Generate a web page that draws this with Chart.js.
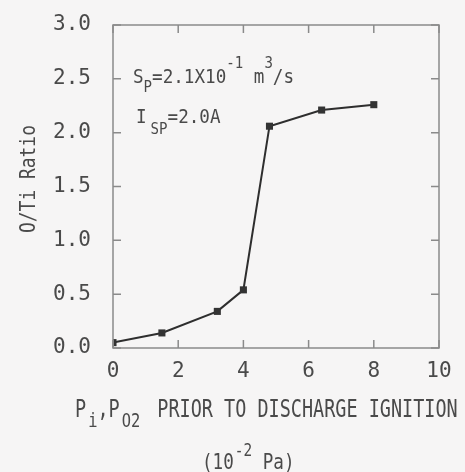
<!DOCTYPE html>
<html>
<head>
<meta charset="utf-8">
<script src="https://cdn.jsdelivr.net/npm/chart.js@4/dist/chart.umd.min.js"></script>
<style>
  html, body { margin: 0; padding: 0; background: #f6f5f5; }
  #wrap { width: 465px; height: 472px; }
</style>
</head>
<body>
<div id="wrap"><canvas id="c" width="465" height="472"></canvas></div>
<script>
// O/Ti ratio versus gas pressure before discharge ignition
const pressure = [0, 1.5, 3.2, 4.0, 4.8, 6.4, 8.0];        // 10^-2 Pa
const otiRatio = [0.05, 0.14, 0.34, 0.54, 2.06, 2.21, 2.26];
const xTickValues = [0, 2, 4, 6, 8, 10];
const yTickValues = [0.0, 0.5, 1.0, 1.5, 2.0, 2.5, 3.0];

const INK = '#4a4a4a';
const FRAME = '#8a8a8a';
const FONT = '"DejaVu Sans Mono", "Liberation Mono", monospace';

// draws a sequence of text runs (with sub/superscripts), horizontally condensed
function drawRuns(ctx, runs, x, y, sx) {
  ctx.save();
  ctx.translate(x, y);
  ctx.scale(sx, 1);
  let cx = 0;
  for (const r of runs) {
    cx += (r.gap || 0) / sx;
    ctx.font = r.size + 'px ' + FONT;
    ctx.fillText(r.t, cx, r.dy || 0);
    cx += ctx.measureText(r.t).width;
  }
  ctx.restore();
}

const decor = {
  id: 'decor',
  beforeDraw(chart) {
    const ctx = chart.ctx;
    ctx.save();
    ctx.fillStyle = '#f6f5f5';
    ctx.fillRect(0, 0, chart.width, chart.height);
    ctx.restore();
  },
  afterDraw(chart) {
    const ctx = chart.ctx;
    const a = chart.chartArea;
    const xs = chart.scales.x, ys = chart.scales.y;
    ctx.save();
    // frame
    ctx.strokeStyle = FRAME;
    ctx.lineWidth = 1.5;
    ctx.strokeRect(a.left, a.top, a.right - a.left, a.bottom - a.top);
    // inward tick marks on all four sides
    const L = 8;
    ctx.beginPath();
    xTickValues.forEach(v => {
      const px = xs.getPixelForValue(v);
      ctx.moveTo(px, a.bottom); ctx.lineTo(px, a.bottom - L);
      ctx.moveTo(px, a.top); ctx.lineTo(px, a.top + L);
    });
    yTickValues.forEach(v => {
      const py = ys.getPixelForValue(v);
      ctx.moveTo(a.left, py); ctx.lineTo(a.left + L, py);
      ctx.moveTo(a.right, py); ctx.lineTo(a.right - L, py);
    });
    ctx.stroke();

    ctx.fillStyle = INK;
    ctx.textBaseline = 'alphabetic';
    ctx.textAlign = 'left';

    // x-axis title, two lines
    drawRuns(ctx, [
      { t: 'P', size: 24 },
      { t: 'i', size: 20, dy: 10, gap: 2 },
      { t: ',', size: 24 },
      { t: 'P', size: 24 },
      { t: 'O2', size: 20, dy: 10, gap: 2 },
      { t: ' PRIOR TO DISCHARGE IGNITION', size: 24, gap: 6 }
    ], 75, 417, 0.77);
    drawRuns(ctx, [
      { t: '(10', size: 22 },
      { t: '-2', size: 18, dy: -13, gap: 1 },
      { t: ' Pa)', size: 22 }
    ], 202, 469, 0.8);

    // y-axis title, rotated
    ctx.save();
    ctx.translate(35, 233);
    ctx.rotate(-Math.PI / 2);
    drawRuns(ctx, [{ t: 'O/Ti Ratio', size: 22 }], 0, 0, 0.815);
    ctx.restore();

    // conditions
    drawRuns(ctx, [
      { t: 'S', size: 20 },
      { t: 'P', size: 16, dy: 9 },
      { t: '=2.1X10', size: 20 },
      { t: '-1', size: 16, dy: -15 },
      { t: ' m', size: 20 },
      { t: '3', size: 16, dy: -15 },
      { t: '/s', size: 20 }
    ], 133, 83, 0.88);
    drawRuns(ctx, [
      { t: 'I', size: 20 },
      { t: 'SP', size: 16, dy: 11, gap: 4 },
      { t: '=2.0A', size: 20 }
    ], 136, 123, 0.88);
    ctx.restore();
  }
};

new Chart(document.getElementById('c'), {
  type: 'line',
  data: {
    datasets: [{
      data: pressure.map((p, i) => ({ x: p, y: otiRatio[i] })),
      borderColor: '#2e2e2e',
      borderWidth: 2,
      backgroundColor: '#333333',
      pointStyle: 'rect',
      pointRadius: 5,
      pointBorderWidth: 0,
      tension: 0
    }]
  },
  options: {
    responsive: false,
    animation: false,
    events: [],
    layout: { padding: { top: 25, right: 26, left: 0, bottom: 0 } },
    plugins: { legend: { display: false }, tooltip: { enabled: false } },
    scales: {
      x: {
        type: 'linear',
        min: 0, max: 10,
        afterFit(s) { s.height = 124; s.paddingLeft = 0; s.paddingRight = 0; },
        afterBuildTicks(s) { s.ticks = xTickValues.map(v => ({ value: v })); },
        grid: { display: false, drawTicks: false },
        border: { display: false },
        ticks: {
          padding: 11,
          color: INK,
          font: { family: FONT, size: 21 },
          maxRotation: 0,
          callback: v => String(v)
        }
      },
      y: {
        min: 0, max: 3,
        afterFit(s) { s.width = 113; s.paddingTop = 0; s.paddingBottom = 0; },
        afterBuildTicks(s) { s.ticks = yTickValues.map(v => ({ value: v })); },
        grid: { display: false, drawTicks: false },
        border: { display: false },
        ticks: {
          padding: 22,
          color: INK,
          font: { family: FONT, size: 21 },
          callback: v => Number(v).toFixed(1)
        }
      }
    }
  },
  plugins: [decor]
});
</script>
</body>
</html>
